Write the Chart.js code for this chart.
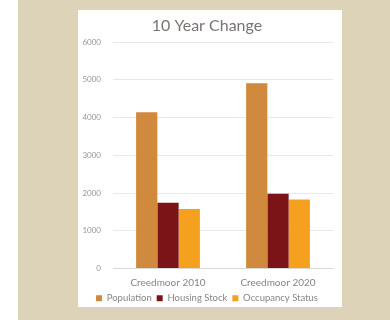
<!DOCTYPE html>
<html>
<head>
<meta charset="utf-8">
<script src="https://cdn.jsdelivr.net/npm/chart.js@4"></script>
<style>
  html, body { margin: 0; padding: 0; background: #fff; }
  body { width: 390px; height: 320px; position: relative; overflow: hidden; }
  .panel { position: absolute; left: 18px; top: 0; width: 372px; height: 320px; background: #ddd3b8; }
  .card { position: absolute; left: 78px; top: 10px; width: 264px; height: 297px; background: #fff; }
</style>
</head>
<body>
<div class="panel"></div>
<div class="card"><canvas id="changeChart" width="264" height="297"></canvas></div>
<script>
const categories = ["Creedmoor 2010", "Creedmoor 2020"];
const population = [4140, 4910];
const housingStock = [1740, 1980];
const occupancyStatus = [1580, 1830];
const yTicks = [0, 1000, 2000, 3000, 4000, 5000, 6000];

const textColor = "#8a8480";
const fontFamily = "Lato, 'Open Sans', sans-serif";

new Chart(document.getElementById("changeChart"), {
    type: "bar",
    data: {
        labels: categories,
        datasets: [
            { label: "Population", data: population, backgroundColor: "#cf8a3e" },
            { label: "Housing Stock", data: housingStock, backgroundColor: "#7a1417" },
            { label: "Occupancy Status", data: occupancyStatus, backgroundColor: "#f5a11d" }
        ]
    },
    options: {
        responsive: false,
        animation: false,
        datasets: {
            bar: { barPercentage: 1, categoryPercentage: 0.58 }
        },
        layout: { padding: { left: 3, right: 9, top: 4, bottom: 4 } },
        plugins: {
            title: {
                display: true,
                text: "10 Year Change",
                color: "#7a7470",
                font: { family: fontFamily, size: 16, weight: "normal" },
                padding: { top: 2, bottom: 7 }
            },
            legend: {
                position: "bottom",
                labels: {
                    boxWidth: 6,
                    boxHeight: 6,
                    padding: 5,
                    color: textColor,
                    font: { family: fontFamily, size: 9.5 }
                }
            },
            tooltip: { enabled: false }
        },
        scales: {
            x: {
                grid: { display: false },
                border: { color: "#d9d9d9" },
                ticks: {
                    color: textColor,
                    padding: 1,
                    font: { family: fontFamily, size: 10, lineHeight: 1 }
                }
            },
            y: {
                min: 0,
                max: 6000,
                afterBuildTicks: (axis) => {
                    axis.ticks = yTicks.map(v => ({ value: v }));
                },
                afterFit: (axis) => {
                    axis.width = 32;
                },
                grid: { color: "#e8e8e8", drawTicks: false },
                border: { display: false },
                ticks: {
                    color: "#9a9590",
                    padding: 12,
                    font: { family: fontFamily, size: 8 },
                    callback: (value) => String(value)
                }
            }
        }
    },
    plugins: [{
        // tighten the legend box so it sits close under the axis labels
        id: "compactLegend",
        beforeInit(chart) {
            const origFit = chart.legend && chart.legend.fit;
            if (!origFit) return;
            chart.legend.fit = function () {
                origFit.call(this);
                this.height -= 10;
            };
        }
    }]
});
</script>
</body>
</html>
